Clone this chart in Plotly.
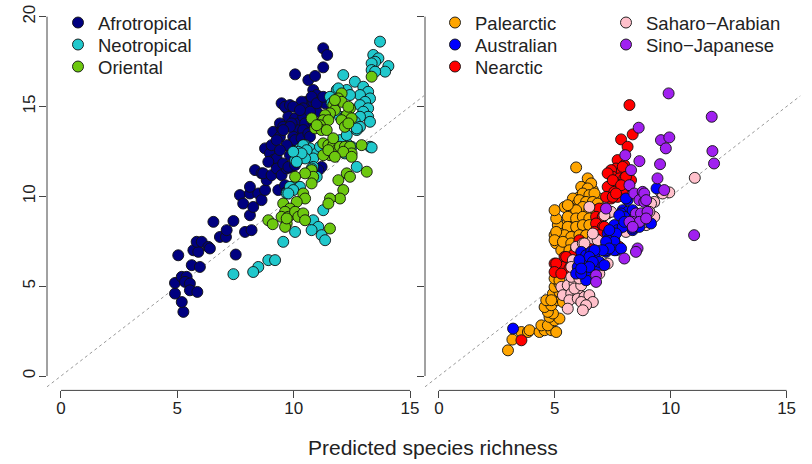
import plotly.graph_objects as go

# ---------------- data ----------------
afro_x = [5.26,5.19,4.90,4.90,5.19,5.40,5.33,5.54,5.54,5.86,5.04,5.62,5.97,5.69,5.90,5.83,6.05,6.33,6.40,6.55,
          6.83,7.09,7.12,7.41,7.51,7.91,8.19,8.12,7.69,7.83,8.12,8.26,8.48,8.62,8.77,8.12,8.34,8.62,8.84,8.77,
          8.98,9.05,9.12,9.27,9.41,9.34,9.12,9.34,11.27,11.44,10.06,10.63,10.92,11.27,10.84,10.99,10.56,10.34,10.41,10.84,
          11.13,11.35,9.48,9.70,9.77,10.06,10.20,10.41,10.56,10.13,10.27,9.98,10.49,9.48,9.41,9.27,9.27,8.91,9.91,9.84,
          9.98,10.20,8.69,9.05,9.27,9.48,9.70,9.91,9.63,9.84,9.41,9.55,9.91,10.49,10.41,10.06,10.34,10.63,10.84,10.99,
          10.70,10.70,10.41,9.70,9.84,9.55,9.41,9.55,9.77,10.06,10.13,11.20,11.06,9.63,9.70,10.13,10.77,10.99,11.27,9.98,10.27]
afro_y = [3.57,4.12,4.59,5.18,5.52,5.52,5.24,5.15,4.77,4.68,6.72,6.17,6.07,7.00,6.91,7.47,7.47,7.19,7.10,8.58,
          7.74,7.74,8.12,8.63,6.76,8.02,8.12,8.95,10.07,9.60,10.16,9.41,10.16,9.79,10.35,10.53,11.46,11.28,10.90,12.67,
          12.39,12.85,12.02,11.74,11.28,13.32,13.59,10.35,18.24,17.87,16.79,16.47,16.70,17.18,15.92,15.64,15.27,15.27,14.90,15.27,
          15.27,15.18,15.18,14.90,14.43,14.34,14.06,14.43,13.87,13.69,13.32,13.32,13.50,13.78,13.32,13.13,12.11,11.92,12.67,12.29,
          12.95,12.76,11.28,11.18,11.55,11.18,11.55,11.64,14.99,15.08,14.06,13.87,14.06,14.06,13.69,13.13,13.23,13.50,14.15,14.71,
          14.71,13.32,12.85,12.85,13.87,13.69,12.57,11.83,11.64,11.74,11.92,11.64,11.46,10.62,10.25,10.53,15.54,15.18,15.54,14.99,14.80]

neo_x = [13.71,13.42,13.64,13.50,13.35,14.07,13.93,13.35,13.50,12.13,12.63,12.99,13.20,12.85,13.28,13.07,12.85,13.20,12.99,13.20,
         12.85,12.63,12.85,12.71,12.28,11.85,12.42,11.56,11.63,11.77,11.99,12.20,13.28,12.49,12.28,11.99,11.70,12.20,11.85,10.49,
         10.70,10.27,10.13,10.41,10.99,10.84,11.13,12.71,10.84,10.70,10.99,9.98,10.27,11.27,10.84,11.06,11.20,11.35,10.77,10.06,
         9.55,9.70,8.91,9.20,8.48,8.26,7.41,10.41,10.20,10.56,10.06,10.49,10.34,9.84,9.98,11.92,13.28,12.71,13.35,12.28,
         9.98,10.13,10.77,9.77]
neo_y = [18.61,17.87,17.68,17.49,17.40,17.25,16.94,17.03,16.94,16.75,16.38,16.10,15.82,15.64,15.45,15.26,15.08,14.90,14.71,14.43,
         14.43,14.15,13.87,13.69,15.92,15.92,15.64,15.54,15.18,14.80,14.43,14.43,12.76,12.76,12.95,13.13,12.85,12.39,12.48,12.85,
         12.67,12.67,12.29,12.29,12.39,12.11,12.76,11.64,11.64,11.37,11.09,10.53,10.53,9.23,8.67,8.30,7.84,7.56,8.12,8.02,
         7.47,10.16,6.45,6.45,6.07,5.79,5.67,12.85,12.48,12.57,12.02,12.11,12.39,10.53,10.35,16.01,14.15,13.78,12.72,13.41,
         12.48,11.92,11.55,10.16]

ori_x = [13.35,12.06,11.92,12.06,11.70,11.77,11.56,11.35,11.27,11.49,11.13,10.92,10.77,11.20,11.42,12.42,12.28,12.49,12.06,12.20,
         11.27,11.49,11.70,11.85,11.99,12.20,12.42,12.92,12.49,12.13,11.56,11.27,11.49,11.77,12.28,12.42,11.92,13.14,12.13,11.99,
         11.56,11.49,10.77,10.84,10.49,10.06,10.77,10.41,10.49,10.13,9.55,9.84,9.63,9.48,9.77,10.06,10.20,10.41,10.49,9.70,
         11.56,8.91,9.10,9.63,9.70,11.70,12.35,12.35,11.77,12.49,10.99]
ori_y = [16.66,15.73,15.45,15.26,15.08,14.80,14.62,14.52,14.24,14.24,13.96,13.78,14.34,13.69,13.69,14.90,14.52,14.34,14.24,13.87,
         12.95,12.85,12.85,12.57,12.76,12.76,12.76,12.85,12.39,12.48,12.29,12.29,12.57,12.20,11.28,11.09,10.90,11.37,10.35,9.88,
         9.88,9.60,11.46,11.09,11.28,11.09,10.72,10.16,9.88,9.69,9.60,9.32,9.14,8.86,8.86,9.14,8.86,9.05,8.67,8.49,
         8.21,8.67,8.45,8.30,8.77,13.23,14.06,14.99,15.36,12.20,13.96]

pal_x = [2.98,3.17,3.56,3.84,3.91,4.34,4.56,4.85,5.06,4.42,4.70,4.99,4.77,5.20,4.92,4.70,4.56,4.85,5.13,4.63,
         5.35,4.92,5.20,4.99,5.20,5.06,4.99,5.28,5.06,5.42,5.28,5.92,6.42,6.14,6.49,6.35,6.64,6.06,5.78,6.21,
         5.92,5.63,5.42,6.14,6.42,6.71,6.92,6.49,6.06,5.71,5.56,5.92,6.21,6.42,6.71,5.13,5.06,4.99,5.99,5.63,
         5.35,5.20,5.49,6.28,6.57,6.92,6.57,6.42,6.21,6.49,6.71,6.06,6.35,6.64,6.85,6.21,5.92,6.49,6.78,7.07,
         5.56,5.56,5.92,6.21,6.49,5.56,5.92,6.21,6.49,5.42,5.71,6.06,6.35,5.06,4.99,5.35,5.71,6.06,5.63,4.99,
         5.20,4.85]
pal_y = [1.43,2.03,2.45,2.45,2.55,2.45,2.55,2.55,2.45,2.82,2.82,3.10,3.29,3.20,3.48,3.57,3.84,3.94,4.22,4.22,
         4.12,4.59,4.68,4.96,5.15,5.43,7.84,7.93,7.38,7.38,7.00,11.61,11.00,10.53,10.53,10.16,10.35,9.97,9.88,9.79,
         9.51,9.41,9.41,9.32,9.41,9.79,9.88,9.05,8.86,8.95,8.58,8.40,8.49,8.58,8.77,8.40,8.77,9.23,8.02,8.02,
         7.93,7.74,7.65,7.93,8.12,8.30,10.72,10.44,10.16,10.07,10.16,9.79,9.69,9.69,9.60,9.41,9.23,9.23,9.23,9.32,
         9.51,8.86,8.77,8.86,8.77,8.30,8.30,8.40,8.40,7.84,7.74,7.84,7.84,8.02,7.56,7.47,7.38,7.38,7.00,5.43,
         5.33,4.22]

nea_x = [8.22,8.36,7.86,8.14,7.71,8.00,7.64,7.86,7.43,8.14,7.50,7.78,7.28,8.00,8.29,7.71,7.43,8.07,7.28,7.57,
         7.93,7.43,7.71,7.21,7.50,6.92,6.78,7.07,7.28,6.78,7.07,6.92,7.21,7.93,8.07,7.50,7.86,7.64,7.14,6.71,
         6.92,6.06,5.92,5.78,5.42,4.99,5.35,5.71,5.49,5.06,5.63,4.99,5.28,5.85,6.49,6.78,7.78,3.56]
nea_y = [15.08,13.45,13.17,12.76,12.02,11.74,11.55,11.37,11.46,11.37,11.09,11.00,11.28,11.00,10.90,10.62,10.62,10.53,10.53,10.25,
         10.16,9.88,9.97,9.97,9.97,9.32,8.86,8.86,9.05,8.49,8.30,7.93,7.74,11.64,11.09,10.90,10.62,10.16,8.30,8.02,
         7.84,7.56,7.10,6.72,6.63,6.26,6.07,6.17,6.63,6.26,5.98,5.79,5.70,6.35,7.38,7.65,7.19,1.99]

sah_x = [5.28,5.56,5.85,5.35,5.71,5.99,5.63,5.99,6.28,6.49,6.64,6.14,6.35,6.21,5.56,5.85,6.14,6.92,7.07,7.28,
         5.71,6.06,6.35,6.71,5.92,6.21,6.64,6.85,8.07,11.04,9.94,9.58,9.29,9.15,9.29,8.79,8.94,7.43,7.14,9.65,
         9.08,8.65,8.94,8.22,8.00,6.64,6.28,5.78,5.71,6.49]
sah_y = [4.96,5.05,5.15,4.50,4.59,4.68,4.22,4.31,4.40,4.50,4.12,4.12,3.94,3.66,3.75,4.87,5.05,5.70,6.17,6.26,
         5.52,5.43,5.61,6.54,7.19,7.38,7.65,7.56,8.02,11.03,10.22,10.22,9.69,9.60,8.86,8.67,8.40,9.14,8.95,10.16,
         9.14,8.77,8.58,8.86,8.40,7.93,7.38,6.45,6.07,9.41]

aus_x = [3.20,6.35,6.14,6.35,6.57,6.71,6.28,6.49,6.78,5.99,6.21,6.42,6.64,6.85,5.92,6.14,7.28,7.57,7.35,7.64,
         8.36,7.21,6.92,9.39,8.14,7.93,8.14,8.36,7.86,8.00,8.36,8.65,9.15,7.57,7.71,7.93,7.43,7.64,7.28,7.57,
         7.21,7.57,8.07,7.78,8.00,7.35,7.21,7.35,7.86,7.07,6.71,6.49,6.64,6.06,6.49,6.14,7.14]
aus_y = [2.64,5.33,6.91,6.72,6.91,6.63,6.35,6.35,6.26,6.07,5.98,5.89,6.07,6.17,5.70,5.70,7.93,7.56,7.56,7.00,
         8.12,6.91,6.35,10.44,9.79,9.23,9.14,9.23,9.05,8.86,8.21,8.30,8.49,8.40,8.12,8.30,8.02,7.93,7.56,7.47,
         7.00,7.00,9.88,8.95,8.58,8.12,7.47,7.10,7.10,7.00,7.00,6.63,6.35,6.45,6.07,5.98,6.17]

sino_x = [9.91,11.77,8.62,9.58,9.94,9.79,8.65,9.54,8.04,8.29,9.43,11.80,11.87,11.01,8.22,8.43,8.79,8.65,8.86,8.50,
          8.72,9.00,8.36,8.65,8.94,8.57,8.50,7.21,8.86,8.94,8.22,8.36,8.00,9.72,6.78,6.78]
sino_y = [15.73,14.43,13.82,13.13,13.28,12.67,11.96,11.79,12.29,11.46,11.00,12.52,11.83,7.84,10.62,10.16,10.25,9.79,9.69,9.05,
          9.05,9.14,8.58,8.58,8.77,7.10,6.91,9.32,10.16,9.79,8.58,8.30,6.54,10.35,5.61,5.24]

one_to_one = [-0.6, 15.6]
x_ticks = [0, 5, 10, 15]
y_ticks = [0, 5, 10, 15, 20]
x_range = [-0.6, 15.6]
y_range = [-0.8, 20.8]

FONT = "Liberation Sans, Arial, Helvetica, sans-serif"
W, H = 812, 464

# (name, x, y, colour, legend column left px, legend row)
left = [("Afrotropical", afro_x, afro_y, "#000080", 58, 0),
        ("Neotropical", neo_x, neo_y, "#20C8CC", 58, 1),
        ("Oriental", ori_x, ori_y, "#6DC80F", 58, 2)]
right = [("Palearctic", pal_x, pal_y, "#FFA500", 435, 0),
         ("Nearctic", nea_x, nea_y, "#FF0000", 435, 2),
         ("Saharo\u2212Arabian", sah_x, sah_y, "#FFC0CB", 606, 0),
         ("Australian", aus_x, aus_y, "#0000FF", 435, 1),
         ("Sino\u2212Japanese", sino_x, sino_y, "#A020F0", 606, 1)]

fig = go.Figure()

for xa, ya in (("x", "y"), ("x2", "y2")):
    fig.add_trace(go.Scatter(x=one_to_one, y=one_to_one, mode="lines", xaxis=xa, yaxis=ya,
                             line=dict(color="#999", width=1, dash="dot"),
                             showlegend=False, hoverinfo="skip"))

legends = {}
k = 0
for group, xa, ya in ((left, "x", "y"), (right, "x2", "y2")):
    for name, xs, ys, col, lx, row in group:
        k += 1
        lname = "legend" if k == 1 else f"legend{k}"
        fig.add_trace(go.Scatter(x=xs, y=ys, mode="markers", name=name, xaxis=xa, yaxis=ya,
                                 legend=lname,
                                 marker=dict(size=11, color=col, line=dict(color="#111", width=0.9))))
        top = 22 * (row + 1) - 18
        legends[lname] = dict(x=lx / W, y=1 - top / H, xanchor="left", yanchor="top",
                              font=dict(family=FONT, size=18.5, color="#222"),
                              bgcolor="rgba(0,0,0,0)", itemclick=False, itemdoubleclick=False)

ydom = [(H - 390.4) / H, (H - 2.3) / H]
axcommon = dict(range=x_range, showgrid=False, zeroline=False, showline=False,
                ticks="outside", ticklen=7, tickwidth=1, tickcolor="#444",
                tickvals=x_ticks, ticklabelstandoff=-5,
                tickfont=dict(family=FONT, size=17, color="#222"))
fig.update_layout(
    width=W, height=H, margin=dict(l=0, r=0, t=0, b=0),
    paper_bgcolor="white", plot_bgcolor="white",
    font=dict(family=FONT, color="#222"),
    xaxis=dict(domain=[47 / W, 424 / W], anchor="y", **axcommon),
    xaxis2=dict(domain=[425 / W, 800.5 / W], anchor="y2", **axcommon),
    yaxis=dict(domain=ydom, anchor="x", range=y_range, showgrid=False, zeroline=False, showline=False,
               ticks="outside", ticklen=7, tickwidth=1, tickcolor="#444",
               tickvals=y_ticks, tickangle=-90, ticklabelstandoff=-3,
               tickfont=dict(family=FONT, size=17, color="#222")),
    yaxis2=dict(domain=ydom, anchor="x2", range=y_range, showgrid=False, zeroline=False, showline=False,
                ticks="outside", ticklen=7, tickwidth=1, tickcolor="#444",
                tickvals=y_ticks, showticklabels=False),
    showlegend=True,
    **legends,
)

# R-style axis lines spanning only the tick range
for xr, yr, xd, yd in (("x", "y", "x domain", "y domain"), ("x2", "y2", "x2 domain", "y2 domain")):
    fig.add_shape(type="line", xref=xr, yref=yd, x0=0, x1=15, y0=0, y1=0,
                  line=dict(color="#444", width=1))
    fig.add_shape(type="line", xref=xd, yref=yr, x0=0, x1=0, y0=0, y1=20,
                  line=dict(color="#444", width=1))

fig.add_annotation(text="Predicted species richness", xref="paper", yref="paper",
                   x=433 / W, y=1 - 447 / H, xanchor="center", yanchor="middle", showarrow=False,
                   font=dict(family=FONT, size=21, color="#222"))

fig.write_html("out.html")
